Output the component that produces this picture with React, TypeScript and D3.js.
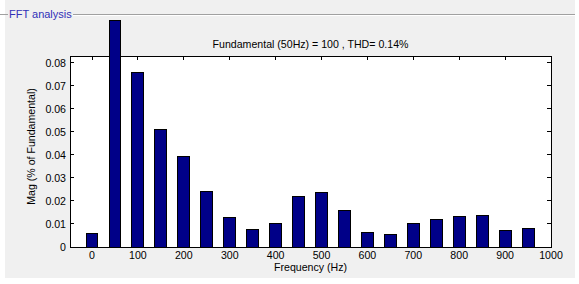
import React from "react";
import * as d3 from "d3";

// harmonic frequencies (Hz) and magnitudes (% of fundamental)
const freqs = [0, 50, 100, 150, 200, 250, 300, 350, 400, 450, 500, 550, 600, 650, 700, 750, 800, 850, 900, 950];
const mags = [
  0.0058, 0.0984, 0.0758, 0.0512, 0.0394, 0.024, 0.0127, 0.0078, 0.0101, 0.0219,
  0.0239, 0.016, 0.0064, 0.0053, 0.0101, 0.012, 0.0133, 0.0138, 0.007, 0.0081,
];
const xTicks = [0, 100, 200, 300, 400, 500, 600, 700, 800, 900, 1000];
const yTicks = [0, 0.01, 0.02, 0.03, 0.04, 0.05, 0.06, 0.07, 0.08];
const title = "Fundamental (50Hz) = 100 , THD= 0.14%";

const W = 579;
const H = 284;
const font = "'Liberation Sans', Arial, sans-serif";
const fs = 10.6;

const App: React.FC = () => {
  // axes box
  const left = 70, right = 551, top = 56, bottom = 247;
  const x = d3.scaleLinear().domain([-48, 1000]).range([left, right]);
  const y = d3.scaleLinear().domain([0, 0.083]).range([bottom, top]);
  const barW = x(26) - x(0);
  const tk = 4;

  return (
    <div style={{ position: "absolute", left: 0, top: 0 }}>
      <svg width={W} height={H} style={{ display: "block", background: "#fff" }}>
        {/* panel */}
        <rect x={5} y={0} width={570} height={278} fill="#f0f0f0" />
        <line x1={0} x2={8} y1={14.5} y2={14.5} stroke="#a0a0a0" />
        <line x1={73} x2={575} y1={14.5} y2={14.5} stroke="#a0a0a0" />
        <line x1={73} x2={575} y1={15.5} y2={15.5} stroke="#ffffff" />
        <text x={9} y={18} fontFamily={font} fontSize={11} fill="#3030b8">
          FFT analysis
        </text>

        {/* axes box */}
        <rect x={left} y={top} width={right - left} height={bottom - top} fill="#fff" stroke="#000" strokeWidth={1} shapeRendering="crispEdges" />
        {xTicks.map((t) => (
          <g key={"x" + t}>
            <line x1={x(t)} x2={x(t)} y1={bottom} y2={bottom - tk} stroke="#000" shapeRendering="crispEdges" />
            <line x1={x(t)} x2={x(t)} y1={top} y2={top + tk} stroke="#000" shapeRendering="crispEdges" />
            <text x={x(t)} y={259} textAnchor="middle" fontFamily={font} fontSize={fs} fill="#000">
              {t}
            </text>
          </g>
        ))}
        {yTicks.map((t) => (
          <g key={"y" + t}>
            <line x1={left} x2={left + tk} y1={y(t)} y2={y(t)} stroke="#000" shapeRendering="crispEdges" />
            <line x1={right} x2={right - tk} y1={y(t)} y2={y(t)} stroke="#000" shapeRendering="crispEdges" />
            <text x={66} y={y(t) + 4} textAnchor="end" fontFamily={font} fontSize={fs} fill="#000">
              {t === 0 ? "0" : d3.format(".2f")(t)}
            </text>
          </g>
        ))}

        {/* bars (not clipped, like MATLAB) */}
        {freqs.map((f, i) => (
          <rect
            key={f}
            x={x(f) - barW / 2}
            y={y(mags[i])}
            width={barW}
            height={y(0) - y(mags[i])}
            fill="#000088"
            stroke="#000"
            strokeWidth={1}
            shapeRendering="crispEdges"
          />
        ))}

        <text x={(left + right) / 2} y={48} textAnchor="middle" fontFamily={font} fontSize={fs} fill="#000">
          {title}
        </text>
        <text x={(left + right) / 2} y={271} textAnchor="middle" fontFamily={font} fontSize={fs} fill="#000">
          Frequency (Hz)
        </text>
        <text
          transform={`translate(35, ${(top + bottom) / 2 - 5}) rotate(-90)`}
          textAnchor="middle"
          fontFamily={font}
          fontSize={fs}
          fill="#000"
        >
          Mag (% of Fundamental)
        </text>
      </svg>
    </div>
  );
};

export default App;
